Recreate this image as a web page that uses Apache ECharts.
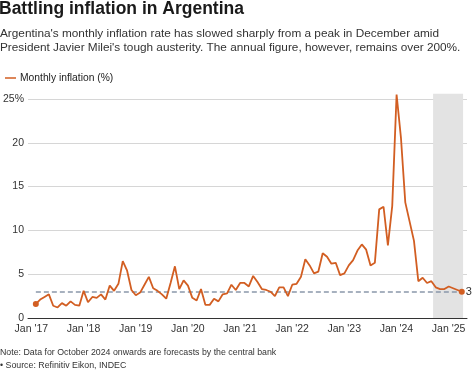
<!DOCTYPE html>
<html>
<head>
<meta charset="utf-8">
<script src="https://cdn.jsdelivr.net/npm/echarts@6/dist/echarts.min.js"></script>
<style>
html,body{margin:0;padding:0;background:#fff;}
#chart{width:474px;height:373px;}
</style>
</head>
<body>
<div id="chart"></div>
<script>
// Monthly inflation (%), Jan 2017 .. Mar 2025 (Oct 2024 onwards = central bank forecast)
const startYear = 2017;
const inflation = [
  1.6, 2.1, 2.4, 2.7, 1.4, 1.2, 1.7, 1.4, 1.9, 1.5, 1.4, 3.1,
  1.8, 2.4, 2.3, 2.7, 2.1, 3.7, 3.1, 3.9, 6.5, 5.4, 3.2, 2.6,
  2.9, 3.8, 4.7, 3.4, 3.1, 2.7, 2.2, 4.0, 5.9, 3.3, 4.3, 3.7,
  2.3, 2.0, 3.3, 1.5, 1.5, 2.2, 1.9, 2.7, 2.8, 3.8, 3.2, 4.0,
  4.0, 3.6, 4.8, 4.1, 3.3, 3.2, 3.0, 2.5, 3.5, 3.5, 2.5, 3.8,
  3.9, 4.7, 6.7, 6.0, 5.1, 5.3, 7.4, 7.0, 6.2, 6.3, 4.9, 5.1,
  6.0, 6.6, 7.7, 8.4, 7.8, 6.0, 6.3, 12.4, 12.7, 8.3, 12.8, 25.5,
  20.6, 13.2, 11.0, 8.8, 4.2, 4.6, 4.0, 4.2, 3.5, 3.3, 3.3, 3.6,
  3.4, 3.2, 3.0
];
const xTickLabels = ["Jan '17", "Jan '18", "Jan '19", "Jan '20", "Jan '21", "Jan '22", "Jan '23", "Jan '24", "Jan '25"];
const yTickValues = [0, 5, 10, 15, 20, 25];
const yTickLabels = ["0", "5", "10", "15", "20", "25%"];
const targetLevel = 3;
const forecastBand = [[91.4, 98.3, 25.6]];   // [start month idx, end month idx, top value]

const FONT = '"Liberation Sans", Arial, Helvetica, sans-serif';
const LINE_COLOR = '#d25e22';

const seriesData = inflation.map((v, i) => [i, v]);
const lastIdx = inflation.length - 1;

const chart = echarts.init(document.getElementById('chart'), null, {renderer: 'canvas'});
chart.setOption({
  animation: false,
  backgroundColor: '#fff',
  textStyle: {fontFamily: FONT},
  grid: {left: 25, right: 7, top: 99, bottom: 55},
  legend: {
    left: 0, top: 68,
    icon: 'rect', itemWidth: 11, itemHeight: 1.5,
    data: ['Monthly inflation (%)'],
    textStyle: {fontFamily: FONT, fontSize: 10.3, color: '#222', padding: [0,0,0,-1]}
  },
  xAxis: {
    type: 'value', min: -1.8, max: 99.2,
    splitLine: {show: false},
    axisTick: {show: false},
    axisLine: {show: true, lineStyle: {color: '#333', width: 1}},
    axisLabel: {
      customValues: xTickLabels.map((_, i) => i * 12),
      formatter: v => xTickLabels[Math.round(v / 12)],
      fontFamily: FONT, fontSize: 10.5, color: '#333', margin: 6,
      padding: [0, 9, 0, 0]
    }
  },
  yAxis: {
    type: 'value', min: 0, max: 25, interval: 5,
    axisLine: {show: false},
    axisTick: {show: false},
    splitLine: {lineStyle: {color: '#d6d6d6', width: 1}},
    axisLabel: {
      formatter: v => yTickLabels[yTickValues.indexOf(v)],
      fontFamily: FONT, fontSize: 10.5, color: '#333', margin: 4
    }
  },
  series: [
    {
      name: 'forecast',
      type: 'custom',
      silent: true,
      clip: false,
      z: 1,
      data: forecastBand,
      renderItem: (params, api) => {
        const p0 = api.coord([api.value(0), 0]);
        const p1 = api.coord([api.value(1), api.value(2)]);
        return {
          type: 'rect',
          shape: {x: p0[0], y: p1[1], width: p1[0] - p0[0], height: p0[1] - p1[1]},
          style: {fill: '#e3e3e3'}
        };
      }
    },
    {
      name: 'Monthly inflation (%)',
      type: 'line',
      data: seriesData,
      clip: false,
      showSymbol: false,
      symbol: 'none',
      lineStyle: {color: LINE_COLOR, width: 1.8},
      itemStyle: {color: LINE_COLOR},
      z: 5,
      markLine: {
        silent: true,
        symbol: 'none',
        lineStyle: {color: '#8b98aa', width: 1.5, type: [5, 3]},
        label: {show: true, position: 'end', formatter: String(targetLevel), distance: 4,
                fontFamily: FONT, fontSize: 11, color: '#333'},
        data: [[{coord: [0, targetLevel]}, {coord: [lastIdx, targetLevel]}]]
      }
    },
    {
      name: 'ends',
      type: 'scatter',
      data: [seriesData[0], seriesData[lastIdx]],
      symbol: 'circle', symbolSize: 6,
      itemStyle: {color: LINE_COLOR, opacity: 1},
      clip: false,
      z: 6
    }
  ],
  graphic: [
    {type: 'text', left: -1, top: 0, z: 10, style: {
      text: 'Battling inflation in Argentina', x: 0, y: 0,
      font: 'bold 17.5px ' + FONT, fill: '#1a1a1a'}},
    {type: 'text', z: 10, x: 0, y: 33.5, style: {
      text: "Argentina's monthly inflation rate has slowed sharply from a peak in December amid",
      font: '11.8px ' + FONT, fill: '#333', verticalAlign: 'middle'}},
    {type: 'text', z: 10, x: 0, y: 48, style: {
      text: "President Javier Milei's tough austerity. The annual figure, however, remains over 200%.",
      font: '11.8px ' + FONT, fill: '#333', verticalAlign: 'middle'}},
    {type: 'text', z: 10, x: 0, y: 352.5, style: {
      text: 'Note: Data for October 2024 onwards are forecasts by the central bank',
      font: '8.8px ' + FONT, fill: '#333', verticalAlign: 'middle'}},
    {type: 'text', z: 10, x: 0, y: 366, style: {
      text: '\u2022 Source: Refinitiv Eikon, INDEC',
      font: '8.8px ' + FONT, fill: '#333', verticalAlign: 'middle'}}
  ]
});
</script>
</body>
</html>
